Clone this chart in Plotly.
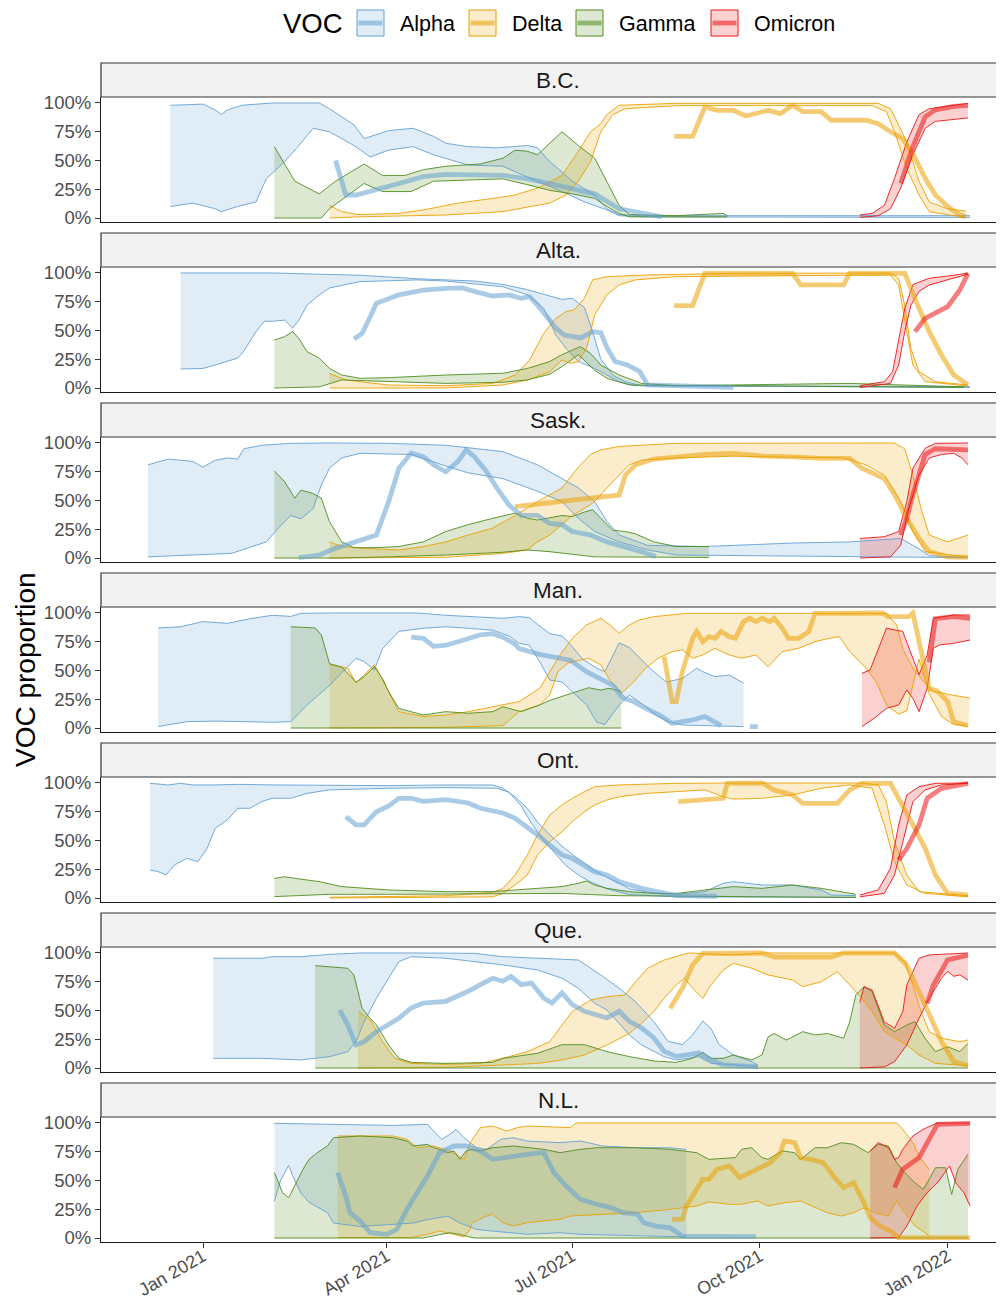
import pandas as pd
import plotly.graph_objects as go

# ---------------------------------------------------------------------------
# Data: every point is (days since 2021-01-01, percent).  (None, None) = gap.
# ---------------------------------------------------------------------------
START = pd.Timestamp("2021-01-01")

PROVINCES = ["B.C.", "Alta.", "Sask.", "Man.", "Ont.", "Que.", "N.L."]
VOCS = ["Alpha", "Delta", "Gamma", "Omicron"]
Y_TICKS = [0, 25, 50, 75, 100]
Y_TICK_LABELS = ["0%", "25%", "50%", "75%", "100%"]
X_TICKS = ["2021-01-01", "2021-04-01", "2021-07-01", "2021-10-01", "2022-01-01"]
X_TICK_LABELS = ["Jan 2021", "Apr 2021", "Jul 2021", "Oct 2021", "Jan 2022"]

# ---- B.C. ----
BC_ALPHA_HI = [(-16, 98), (0, 99), (6, 94), (9, 90), (12, 94), (19, 98), (34, 100), (57, 100), (62, 95), (74, 81), (79, 69), (91, 76), (103, 78), (113, 71), (119, 65), (130, 62), (144, 61), (159, 63), (164, 61), (170, 49), (176, 40), (181, 32), (192, 20), (198, 8), (204, 3), (215, 2), (376, 2)]
BC_ALPHA_LO = [(-16, 10), (-5, 13), (6, 8), (9, 5.5), (17, 10), (26, 14), (31, 34), (40, 49), (47, 63), (54, 78), (62, 75), (74, 63), (82, 53), (91, 59), (103, 62), (113, 55), (130, 46), (147, 45), (161, 34), (176, 23), (187, 14), (198, 7), (204, 2), (215, 1), (376, 0.5)]
BC_ALPHA_OBS = [(65, 50), (70, 20), (75, 20), (82, 23), (96, 30), (108, 36), (119, 38), (147, 37), (159, 34), (170, 30), (181, 26), (192, 21), (204, 8), (215, 4), (225, 1)]
BC_GAMMA_HI = [(35, 62), (45, 32), (57, 21), (65, 32), (79, 47), (88, 37), (99, 37), (108, 42), (119, 45), (136, 47), (147, 52), (153, 59), (159, 58), (164, 55), (176, 75), (184, 63), (192, 52), (198, 32), (204, 11), (209, 3), (232, 2), (255, 4), (257, 2)]
BC_GAMMA_LO = [(35, 0), (58, 0), (62, 8), (71, 20), (79, 30), (88, 23), (102, 23), (113, 32), (130, 33), (147, 34), (159, 29), (170, 24), (181, 21), (192, 17), (198, 10), (204, 4), (209, 1), (257, 1)]
BC_DELTA_HI = [(62, 11), (68, 5.5), (76, 3), (96, 4), (108, 7), (125, 13), (142, 17), (153, 20), (164, 26), (176, 37), (184, 58), (190, 75), (195, 82), (198, 90), (204, 98), (232, 99.7), (331, 99.7), (337, 95), (341, 81), (345, 66), (351, 32), (356, 14), (365, 8), (374, 6)]
BC_DELTA_LO = [(62, 0), (76, 1), (119, 2.6), (147, 5.5), (170, 13), (178, 20), (184, 32), (190, 49), (195, 75), (201, 90), (207, 95), (232, 97.7), (328, 97.7), (335, 92.5), (339, 75), (345, 43), (351, 20), (356, 5.5), (368, 2), (374, 1)]
BC_DELTA_OBS = [(231, 71), (240, 71), (246, 96.5), (252, 93.6), (260, 93.6), (266, 88.7), (277, 93.6), (283, 90.7), (289, 98), (294, 92.5), (303, 92.5), (308, 85), (325, 85), (331, 82), (337, 75), (343, 69), (348, 56), (354, 34.5), (359, 20), (365, 10), (371, 2.6), (374, 1)]
BC_OMICRON_HI = [(322, 2.6), (328, 4), (334, 11), (339, 34.5), (345, 66), (351, 90), (356, 95), (368, 98), (375, 99.7)]
BC_OMICRON_LO = [(322, 0.5), (331, 2), (337, 8), (342, 26), (348, 55), (354, 78), (359, 84), (368, 86), (375, 87)]
BC_OMICRON_OBS = [(342, 30), (348, 62), (354, 88), (359, 94), (368, 97), (375, 98)]

# ---- Alta. ----
AB_ALPHA_HI = [(-11, 100), (34, 100), (77, 98), (105, 95), (133, 93), (147, 90), (159, 85.5), (170, 80), (176, 77), (181, 78), (187, 70), (191, 49), (195, 25), (201, 11), (207, 5.5), (215, 2), (376, 1.2)]
AB_ALPHA_LO = [(-11, 16.5), (0, 17), (6, 20), (12, 23), (17, 26), (20, 32), (26, 49), (30, 58), (34, 58), (40, 59), (44, 52), (47, 59), (51, 72), (57, 81), (62, 87), (77, 92.5), (105, 94), (119, 93), (147, 88), (159, 81), (167, 69), (173, 46), (178, 34.5), (184, 23), (192, 17), (204, 5.5), (212, 2), (376, 0.5)]
AB_ALPHA_OBS = [(74, 42.6), (78, 47.5), (82, 62), (85, 73.6), (96, 81), (108, 85), (119, 86.7), (127, 87), (133, 84), (142, 80), (150, 81), (156, 78), (160, 79.4), (164, 72), (173, 52), (177, 46), (185, 43.5), (191, 49), (195, 48), (198, 35), (202, 23), (208, 20), (214, 14.5), (218, 2.6), (260, 0.5)]
AB_GAMMA_HI = [(35, 41.7), (40, 44.6), (44, 49), (47, 43), (51, 31.6), (57, 26), (62, 17), (68, 11.3), (77, 8.4), (91, 9), (119, 11.3), (147, 12.8), (159, 17), (170, 23), (176, 29), (181, 33), (185, 36), (190, 30), (195, 20), (204, 11.3), (215, 4), (232, 2), (289, 3.2), (317, 4), (373, 1)]
AB_GAMMA_LO = [(35, 0), (57, 1), (68, 7), (91, 5.5), (119, 4), (147, 5), (159, 7), (170, 12), (178, 21), (184, 29), (188, 22.6), (192, 15.4), (198, 8.4), (209, 2.6), (373, 0.5)]
AB_DELTA_HI = [(62, 12.8), (70, 7), (91, 2.6), (119, 2), (142, 4), (153, 11.3), (160, 24), (167, 47.5), (173, 60.6), (178, 66.4), (182, 68), (187, 78), (191, 94), (198, 96.8), (218, 98.3), (260, 99.7), (337, 100), (341, 95.4), (344, 72), (347, 34.5), (351, 14.2), (359, 5.5), (375, 2.6)]
AB_DELTA_LO = [(62, 0), (119, 0), (147, 2.6), (159, 7), (170, 14.2), (176, 24.3), (180, 21.4), (184, 22.9), (188, 34.5), (192, 63.5), (198, 81), (204, 89.6), (212, 94), (232, 96.8), (337, 98.3), (341, 89.6), (345, 49), (348, 20), (354, 5.5), (375, 1.7)]
AB_DELTA_OBS = [(231, 71.6), (240, 71.6), (246, 99.7), (289, 99.7), (293, 89.6), (314, 89.6), (317, 99.7), (344, 99.7), (351, 69.3), (356, 49), (362, 28.7), (368, 11.3), (375, 2.6)]
AB_OMICRON_HI = [(322, 2), (334, 5.5), (338, 14), (341, 40), (344, 69), (348, 90), (356, 95.4), (368, 98), (375, 100)]
AB_OMICRON_LO = [(322, 0.5), (337, 4), (341, 20), (344, 49), (347, 72), (351, 84), (356, 89.6), (365, 94), (375, 99)]
AB_OMICRON_OBS = [(349, 49), (354, 60.6), (365, 70.7), (371, 85.2), (375, 99.7)]

# ---- Sask. ----
SK_ALPHA_HI = [(-27, 81), (-17, 86), (-5, 84), (0, 79), (6, 85), (12, 87), (17, 86), (20, 95), (29, 98), (43, 99.7), (62, 100), (91, 99.7), (119, 98), (147, 92.5), (164, 81), (176, 69), (184, 61), (192, 49), (198, 32), (204, 20), (218, 11), (246, 10), (289, 13), (317, 14), (342, 17), (351, 8), (356, 2), (375, 0.5)]
SK_ALPHA_LO = [(-27, 1), (14, 4), (31, 14), (37, 26), (43, 37), (48, 34), (54, 43), (58, 63.5), (62, 78), (68, 87), (77, 91), (102, 90), (119, 80), (130, 74), (147, 69), (164, 58), (176, 49), (184, 34.5), (192, 23), (204, 14), (218, 7), (232, 2.6), (375, 0.3)]
SK_ALPHA_OBS = [(47, 0.3), (57, 2.6), (65, 8.4), (74, 14), (85, 20), (91, 49), (96, 78), (102, 91), (108, 88), (113, 81), (119, 75), (125, 84), (129, 94), (133, 88), (139, 75), (144, 61), (150, 46), (156, 37), (164, 37), (170, 30), (176, 29), (181, 23), (190, 20), (198, 14), (207, 10), (215, 5.5), (222, 1.2)]
SK_GAMMA_HI = [(35, 75.7), (40, 66.4), (45, 52), (48, 59), (54, 56), (58, 52), (62, 31.6), (68, 14), (74, 9), (85, 9), (96, 10), (108, 14), (119, 23), (130, 29), (142, 34.5), (153, 39), (159, 34.5), (164, 33), (176, 37), (181, 36), (187, 40), (191, 42), (195, 34.5), (201, 24), (207, 23), (212, 21), (221, 14), (232, 10), (248, 10)]
SK_GAMMA_LO = [(35, 0), (68, 0), (91, 1), (119, 2.6), (147, 5), (159, 7), (170, 5.5), (181, 3), (192, 1), (248, 0.5)]
SK_DELTA_HI = [(62, 14), (68, 10), (79, 8.4), (96, 7), (108, 10), (119, 14), (130, 20), (142, 26), (153, 37), (164, 49), (176, 61), (184, 79), (190, 90), (195, 94), (204, 97), (232, 99.7), (339, 100), (344, 95), (348, 72), (352, 43), (356, 20), (365, 14), (375, 20)]
SK_DELTA_LO = [(62, 0), (119, 0.6), (147, 4), (159, 7), (164, 14), (170, 20), (176, 29), (181, 37), (187, 43), (192, 49), (198, 61), (204, 72), (209, 81), (215, 85), (232, 87), (260, 88.5), (289, 88), (314, 87), (325, 81), (334, 72), (342, 49), (348, 23), (354, 5.5), (375, 0.6)]
SK_DELTA_OBS = [(153, 44.6), (204, 54.8), (207, 72), (212, 81), (221, 86), (232, 88), (246, 90), (260, 91), (274, 88.7), (289, 88), (303, 86.7), (317, 86.7), (323, 78), (334, 69), (339, 55), (345, 34.5), (351, 17), (356, 5.5), (365, 1), (375, 0.6)]
SK_OMICRON_HI = [(322, 17), (334, 18.5), (341, 23), (345, 49), (348, 78), (354, 95.4), (359, 99.7), (375, 100)]
SK_OMICRON_LO = [(322, 0), (337, 1), (342, 11), (346, 43), (351, 72), (356, 87), (362, 90), (368, 91), (372, 87), (375, 81)]
SK_OMICRON_OBS = [(342, 20), (345, 34.5), (348, 55), (351, 72), (354, 90), (359, 95), (368, 95), (375, 94)]

# ---- Man. ----
MB_ALPHA_HI = [(-22, 87), (-11, 88), (0, 92.5), (12, 91), (23, 95), (34, 98), (43, 97), (48, 99.7), (62, 100), (105, 100), (119, 98), (147, 95.4), (155, 96.8), (160, 96), (164, 90), (170, 82), (176, 80), (180, 73), (186, 60), (193, 52), (197, 49), (204, 74), (209, 70), (219, 52), (227, 40), (235, 43), (242, 52), (245, 49), (251, 44.6), (258, 46), (265, 39)]
MB_ALPHA_LO = [(-22, 1.2), (-8, 5.5), (6, 6), (34, 5), (43, 5.5), (51, 20), (62, 37), (68, 47.5), (75, 60.6), (79, 57.7), (84, 50.4), (88, 69), (96, 84), (108, 86.7), (119, 88), (130, 86.7), (142, 85), (150, 80), (155, 73.6), (160, 72), (165, 57.7), (170, 41.7), (176, 40), (182, 30), (188, 20), (193, 5), (197, 3), (204, 20), (209, 28.7), (216, 20), (222, 11), (228, 5.5), (235, 2.6), (265, 1.2)]
MB_ALPHA_OBS = [(102, 79), (108, 78), (113, 71), (119, 72), (125, 75), (130, 78), (136, 81), (142, 82), (147, 79), (153, 73), (155, 69), (165, 64), (172, 62), (180, 59), (188, 49), (194, 43), (201, 37), (206, 26), (211, 23), (217, 17), (224, 11), (230, 4), (240, 7), (246, 10), (251, 5.5), (254, 2), (None, None), (268, 1.2), (272, 1.2)]
MB_GAMMA_HI = [(43, 88), (55, 87), (58, 81), (62, 56), (68, 53), (72, 46), (75, 40), (79, 44.6), (84, 53.3), (88, 43), (91, 31.6), (96, 17), (108, 11.3), (119, 14.2), (130, 12.8), (142, 14.2), (147, 18.5), (156, 14.2), (165, 20), (170, 24), (178, 28.7), (189, 35), (195, 33), (199, 34.5), (205, 32)]
MB_GAMMA_LO = [(43, 0), (205, 0)]
MB_DELTA_HI = [(62, 55), (71, 52), (75, 39), (84, 55), (91, 31.6), (96, 14.2), (108, 10), (119, 11.3), (130, 14.2), (142, 18.5), (147, 20), (155, 23), (165, 34.5), (175, 63.5), (181, 78), (188, 89.6), (195, 95.4), (199.5, 89.6), (204, 82.3), (209, 89.6), (214, 94), (221, 96.8), (237, 99.7), (335, 99.7), (340, 89.6), (343, 69), (348, 52), (353, 40.6), (358, 32), (366, 29), (376, 26)]
MB_DELTA_LO = [(62, 0), (119, 0.6), (147, 2), (155, 14.2), (165, 20), (170, 28.7), (174, 49), (179, 56.5), (185, 59), (189, 60.6), (195, 54.8), (200, 40), (205, 30), (211, 40), (217, 52), (223, 60.6), (230, 66.4), (235, 68), (240, 60.6), (245, 63.5), (251, 69.3), (258, 63.5), (264, 60.6), (271, 63.5), (277, 53.3), (284, 66.4), (292, 69.3), (300, 75), (307, 78), (312, 79.4), (317, 66.4), (325, 52), (330, 40), (335, 20), (341, 12), (345, 15), (351, 60), (356, 30), (362, 10), (368, 3), (375, 1.5)]
MB_DELTA_OBS = [(226, 62), (228, 40), (230, 23), (232, 23), (235, 49), (240, 78), (242, 84), (245, 75), (248, 79.4), (251, 78), (254, 84), (258, 79.4), (261, 78), (265, 92.5), (268, 95.4), (271, 92.5), (274, 95.4), (278, 92.5), (280, 95.4), (284, 86.7), (287, 78), (292, 78), (297, 84), (300, 99.7), (333, 100), (336, 96.8), (346, 96.8), (348, 100), (351, 75), (356, 34.5), (360, 32), (365, 23), (368, 5.5), (375, 2)]
MB_OMICRON_HI = [(323, 47.5), (327, 50.4), (335, 86.7), (343, 84), (348, 60.6), (351, 46.4), (355, 63.5), (358, 95.4), (368, 98.3), (376, 98.3)]
MB_OMICRON_LO = [(323, 1.2), (329, 8.4), (335, 17), (341, 20), (345, 33), (348, 25.8), (351, 14.2), (355, 34.5), (358, 69.3), (361, 72.2), (368, 73.6), (376, 76.5)]
MB_OMICRON_OBS = [(356, 57), (359, 95), (368, 96.8), (376, 95.4)]

# ---- Ont. ----
ON_ALPHA_HI = [(-26, 99.7), (-22, 98.8), (-17, 98.3), (-11, 99.7), (-5, 98.3), (6, 98.3), (17, 98.8), (34, 98.3), (62, 97.7), (91, 97.7), (119, 98.3), (142, 98.3), (147, 95.4), (153, 88), (159, 78), (164, 66), (170, 55), (176, 45), (181, 38), (187, 30), (192, 24), (198, 18), (204, 13), (209, 8), (218, 5), (232, 3.2), (246, 5.5), (255, 12.8), (260, 14.2), (274, 11.3), (289, 11.3), (303, 7), (308, 2.6), (320, 2)]
ON_ALPHA_LO = [(-26, 24.3), (-22, 22.9), (-18, 20), (-14, 28.7), (-8, 34.5), (-2.5, 31.6), (2, 43), (6, 60.6), (12, 68), (17, 78), (23, 78), (29, 84), (34, 86.7), (43, 86.7), (51, 91), (62, 94), (91, 95.4), (119, 96), (144, 95.4), (150, 92), (156, 80), (161, 65), (167, 50), (173, 38), (178, 28), (184, 20), (190, 14), (198, 8), (209, 3), (232, 1), (320, 0.5)]
ON_ALPHA_OBS = [(70, 70.7), (75, 63.5), (79, 63.5), (85, 75), (91, 80), (96, 86.7), (102, 86.7), (108, 84), (119, 85.5), (130, 82.6), (136, 78), (147, 73.9), (153, 69.3), (159, 62), (164, 54.8), (170, 46), (176, 37.4), (181, 34.5), (187, 28.7), (192, 22.9), (198, 20), (204, 14.2), (215, 8.4), (226, 4), (232, 2), (252, 1.5)]
ON_GAMMA_HI = [(35, 17), (40, 18.5), (45.5, 17), (57, 14.2), (68, 9.9), (91, 7), (119, 5.5), (142, 5.5), (153, 7), (164, 8.4), (176, 9.9), (184, 12.8), (188, 14.8), (192, 11.3), (198, 8.4), (209, 5.5), (221, 4), (232, 4), (246, 7), (260, 9.9), (274, 8.4), (289, 11.3), (303, 8.4), (320, 3.2)]
ON_GAMMA_LO = [(35, 1.2), (62, 3.2), (91, 3.2), (176, 4), (204, 2), (320, 0.5)]
ON_DELTA_HI = [(62, 0.6), (119, 2), (142, 4.9), (147, 8.4), (153, 20), (159, 37.4), (164, 55), (170, 72.2), (176, 81), (181, 86.7), (187, 92.5), (192, 96.8), (204, 98.3), (232, 99.7), (260, 100), (323, 100), (331, 98.3), (335, 83.8), (339, 49), (345, 20), (351, 5.5), (375, 2)]
ON_DELTA_LO = [(62, 0), (142, 1), (147, 4), (153, 11.3), (159, 20), (164, 37.4), (170, 49), (176, 57.7), (181, 66.4), (187, 75), (192, 80.9), (198, 85.2), (204, 88), (218, 91), (232, 92.5), (246, 94), (255, 88), (260, 86), (274, 86.7), (289, 89.6), (303, 95.4), (317, 98.3), (328, 95.4), (334, 63.5), (339, 31.6), (345, 11.3), (354, 4), (375, 1.2)]
ON_DELTA_OBS = [(233, 83.8), (255, 86.7), (257, 99.7), (274, 100), (280, 93.9), (289, 89.6), (294, 82.3), (311, 82.3), (317, 93.9), (323, 99.7), (337, 99.7), (342, 83.8), (348, 63.5), (354, 43.2), (359, 20), (365, 4), (375, 2.6)]
ON_OMICRON_HI = [(322, 2.6), (331, 7), (337, 25.8), (341, 63.5), (345, 89.6), (351, 96.8), (359, 99.7), (375, 100)]
ON_OMICRON_LO = [(322, 1), (334, 4), (339, 20), (344, 54.8), (348, 83.8), (354, 94), (362, 98.3), (375, 99.7)]
ON_OMICRON_OBS = [(341, 33), (345, 43), (351, 63.5), (355, 86.7), (362, 95.4), (375, 99.7)]

# ---- Que. ----
QC_ALPHA_HI = [(5, 95.4), (29, 95.4), (34, 96.8), (48, 96.8), (62, 98.8), (77, 100), (105, 100), (133, 99.7), (147, 96.8), (164, 95.4), (184, 93.9), (195, 80.9), (204, 69.3), (212, 57.7), (221, 40.3), (228, 23.2), (235, 20.3), (240, 28.7), (245, 40.9), (249, 34.5), (253, 20.3), (260, 11.3), (269, 5.5), (272, 2.6)]
QC_ALPHA_LO = [(5, 8.4), (29, 8.4), (48, 7), (62, 9.9), (71, 14.2), (75, 22.9), (79, 40.3), (85, 60.6), (91, 78), (96, 92.5), (102, 96.8), (119, 95.4), (147, 89.6), (164, 85.2), (176, 78), (184, 69.3), (192, 56.2), (198, 50.4), (204, 38.8), (209, 28.7), (215, 20), (226, 9.9), (232, 7), (243, 9.9), (249, 4), (272, 1.2)]
QC_ALPHA_OBS = [(67, 50.4), (71, 37.4), (75, 20), (79, 22.9), (85, 31.6), (91, 37.4), (96, 43.2), (102, 52.2), (108, 56.5), (119, 58), (125, 62.3), (130, 66.7), (136, 72.5), (142, 78), (147, 75.4), (151, 79.7), (156, 72.5), (161, 73.9), (167, 60.9), (171, 56.5), (176, 65.2), (181, 55.1), (187, 49.3), (192, 46.4), (198, 43.5), (204, 49.3), (209, 40.6), (215, 34.8), (221, 26.1), (226, 14.5), (232, 10.1), (243, 13), (249, 7.2), (255, 2.6), (272, 0.9)]
QC_GAMMA_HI = [(55, 89), (71, 86.7), (74, 80.9), (78, 51.9), (82, 43.2), (85, 37.4), (91, 20), (96, 8.4), (102, 4.9), (119, 4), (142, 4.9), (147, 8.4), (164, 12.8), (176, 20.3), (187, 20.3), (198, 14.2), (209, 9.9), (221, 6.1), (232, 4.9), (240, 8.4), (245, 13.6), (249, 8.4), (255, 8.4), (260, 11.3), (269, 7), (274, 11.3), (277, 27), (280, 30), (286, 24.3), (294, 31.6), (300, 28.7), (306, 30), (314, 25.8), (317, 40), (320, 63.5), (324, 70.7), (328, 66.4), (334, 37.4), (339, 31.6), (345, 37.4), (349, 40.3), (354, 25.8), (359, 14.2), (365, 18.5), (371, 14.2), (375, 21.4)]
QC_GAMMA_LO = [(55, 0), (375, 0)]
QC_DELTA_HI = [(76, 49), (82, 41.7), (88, 22.9), (94, 8.4), (102, 4), (119, 3.2), (136, 4), (147, 8.4), (159, 14.2), (170, 22.9), (176, 37.4), (181, 49), (190, 59.1), (198, 62), (207, 63.5), (212, 75), (218, 86.7), (226, 93.9), (238, 100), (249, 99.4), (260, 98.3), (274, 100), (339, 100), (344, 92.5), (348, 72.2), (352, 49), (356, 31.6), (362, 25.8), (371, 22.9), (375, 24.3)]
QC_DELTA_LO = [(76, 0), (119, 0.6), (147, 2.6), (164, 4), (176, 7), (187, 11.3), (198, 20), (209, 30.1), (215, 38.8), (221, 49), (226, 60.6), (232, 72.2), (236, 78), (240, 69.3), (245, 60.6), (249, 72.2), (255, 85.2), (260, 91), (269, 86.7), (277, 80.9), (289, 76.5), (294, 70.7), (303, 75), (311, 83.8), (317, 72.2), (323, 60.6), (328, 49), (334, 31.6), (339, 26), (345, 20), (351, 11.3), (359, 4), (375, 2)]
QC_DELTA_OBS = [(229, 51.9), (235, 69.3), (240, 89.6), (245, 99.7), (274, 100), (280, 96.5), (308, 96.5), (314, 100), (339, 100), (345, 89.6), (351, 66.4), (356, 46.1), (362, 23), (368, 5.5), (375, 2)]
QC_OMICRON_HI = [(322, 57), (324, 70.7), (328, 67.8), (334, 40), (339, 34.5), (343, 49), (345, 72.2), (351, 95.4), (356, 98.3), (375, 100)]
QC_OMICRON_LO = [(322, 0), (334, 1), (339, 5.5), (345, 20), (351, 43.2), (356, 60.6), (362, 78), (365, 84), (368, 79.7), (371, 80.9), (375, 76.5)]
QC_OMICRON_OBS = [(355, 56), (358, 72), (365, 94), (375, 98)]

# ---- N.L. ----
NL_ALPHA_HI = [(35, 99.7), (61, 98.8), (93, 97.9), (110, 98.8), (113, 93), (117, 85.8), (121, 90.1), (124, 94.5), (128, 87.2), (134, 78.6), (139, 77.1), (146, 85.8), (152, 87.2), (159, 84.3), (175, 82.9), (185, 84.3), (196, 80), (212, 78.5), (229, 78.5), (237, 77)]
NL_ALPHA_LO = [(35, 32), (38, 50), (42, 63), (44, 54), (48, 39), (52, 31), (61, 22), (64, 13), (77, 10), (93, 12), (103, 13), (110, 16), (120, 19), (126, 13), (134, 7.5), (142, 6), (152, 4.6), (159, 3.2), (175, 4.6), (185, 3.2), (212, 2), (237, 1)]
NL_ALPHA_OBS = [(66, 56.8), (70, 36.5), (72, 22), (77, 14.8), (82, 4.6), (90, 3.2), (95, 7.5), (100, 25), (105, 39.4), (110, 53.9), (116, 74.2), (123, 80), (129, 80), (136, 75.7), (142, 68.4), (152, 71.3), (159, 72.8), (167, 74.2), (172, 56.8), (178, 45.2), (185, 33.6), (193, 29.3), (200, 26.4), (206, 22), (213, 20.6), (216, 13.3), (222, 10.4), (229, 8.9), (235, 1.7), (271, 1.2)]
NL_GAMMA_HI = [(35, 57), (39, 39.4), (42, 35), (44, 42.3), (49, 59.7), (52, 68.4), (56, 74.2), (61, 80), (64, 87.2), (77, 88.7), (93, 87.2), (100, 84.3), (103, 80), (110, 81.4), (113, 78.5), (116, 77.1), (120, 74.2), (123, 75.7), (126, 68.4), (129, 75.7), (132, 77.1), (136, 75.7), (142, 78.5), (152, 80), (159, 78.5), (167, 77.1), (175, 74.2), (185, 77.1), (193, 78.5), (212, 78.5), (229, 77.1), (235, 75.7), (242, 74.2), (248, 68.4), (261, 69.9), (264, 77.1), (269, 78.5), (274, 69.9), (277, 68.4), (284, 75.7), (290, 74.2), (293, 68.4), (300, 78.5), (306, 78.5), (313, 82.9), (319, 81.4), (326, 74.2), (331, 81.4), (336, 80), (340, 65.5), (344, 56.8), (349, 48.1), (353, 42.3), (356, 51), (359, 61.1), (364, 61.1), (367, 37.9), (370, 59.7), (375, 72.8)]
NL_GAMMA_LO = [(35, 0), (108, 0), (116, 3), (121, 4.5), (126, 3), (133, 0), (375, 0)]
NL_DELTA_HI = [(66, 88.7), (93, 88.7), (100, 85.8), (105, 78.6), (113, 80), (121, 75.7), (128, 68.4), (131, 82.9), (136, 95.9), (142, 97.4), (149, 93), (154, 95.9), (159, 97.4), (180, 96), (183, 100), (340, 100), (343, 94.5), (348, 83), (351, 71.3), (356, 59.7)]
NL_DELTA_LO = [(66, 0.4), (102, 0.4), (110, 3.2), (116, 6.1), (128, 1), (131, 7.5), (132, 13.3), (139, 19.1), (142, 20.6), (147, 13.3), (152, 10.4), (159, 13.3), (167, 14.8), (175, 16.2), (180, 19.1), (196, 20.6), (212, 22), (229, 24.9), (235, 26.4), (242, 27.8), (248, 31.3), (258, 29.3), (264, 29.3), (272, 32.2), (277, 27.8), (285, 30.7), (293, 32.2), (300, 26.4), (306, 22), (313, 19.1), (319, 22), (324, 26.4), (329, 22), (336, 19.1), (340, 32.2), (344, 22), (349, 10.4), (354, 4.6), (356, 1.7)]
NL_DELTA_OBS = [(230, 16.2), (235, 16.2), (237, 27.8), (242, 42.3), (245, 51), (248, 51), (252, 59.7), (258, 62.6), (263, 52.5), (270, 58.3), (278, 65.5), (283, 74.2), (285, 84.3), (290, 82.9), (293, 69.9), (298, 68.4), (304, 65.5), (309, 53.9), (314, 43.8), (319, 48.1), (324, 30.7), (327, 17.7), (332, 10.4), (337, 6.1), (341, 0.3), (376, 0.3)]
NL_OMICRON_HI = [(327, 75.7), (331, 82.9), (336, 78.5), (339, 68.4), (341, 70), (343, 77), (348, 88.7), (353, 94.5), (360, 100), (376, 100)]
NL_OMICRON_LO = [(327, 0), (341, 0.3), (345, 10.4), (350, 27.8), (355, 39.4), (360, 48), (366, 62.6), (369, 48), (373, 39.4), (376, 27.8)]
NL_OMICRON_OBS = [(339, 43.8), (343, 59.7), (351, 69.9), (356, 85.8), (360, 98.8), (376, 99.7)]

# (upper bound, lower bound, observed) for each province / VOC
SERIES = {
    "B.C.": {"Alpha": (BC_ALPHA_HI, BC_ALPHA_LO, BC_ALPHA_OBS), "Delta": (BC_DELTA_HI, BC_DELTA_LO, BC_DELTA_OBS),
             "Gamma": (BC_GAMMA_HI, BC_GAMMA_LO, None), "Omicron": (BC_OMICRON_HI, BC_OMICRON_LO, BC_OMICRON_OBS)},
    "Alta.": {"Alpha": (AB_ALPHA_HI, AB_ALPHA_LO, AB_ALPHA_OBS), "Delta": (AB_DELTA_HI, AB_DELTA_LO, AB_DELTA_OBS),
              "Gamma": (AB_GAMMA_HI, AB_GAMMA_LO, None), "Omicron": (AB_OMICRON_HI, AB_OMICRON_LO, AB_OMICRON_OBS)},
    "Sask.": {"Alpha": (SK_ALPHA_HI, SK_ALPHA_LO, SK_ALPHA_OBS), "Delta": (SK_DELTA_HI, SK_DELTA_LO, SK_DELTA_OBS),
              "Gamma": (SK_GAMMA_HI, SK_GAMMA_LO, None), "Omicron": (SK_OMICRON_HI, SK_OMICRON_LO, SK_OMICRON_OBS)},
    "Man.": {"Alpha": (MB_ALPHA_HI, MB_ALPHA_LO, MB_ALPHA_OBS), "Delta": (MB_DELTA_HI, MB_DELTA_LO, MB_DELTA_OBS),
             "Gamma": (MB_GAMMA_HI, MB_GAMMA_LO, None), "Omicron": (MB_OMICRON_HI, MB_OMICRON_LO, MB_OMICRON_OBS)},
    "Ont.": {"Alpha": (ON_ALPHA_HI, ON_ALPHA_LO, ON_ALPHA_OBS), "Delta": (ON_DELTA_HI, ON_DELTA_LO, ON_DELTA_OBS),
             "Gamma": (ON_GAMMA_HI, ON_GAMMA_LO, None), "Omicron": (ON_OMICRON_HI, ON_OMICRON_LO, ON_OMICRON_OBS)},
    "Que.": {"Alpha": (QC_ALPHA_HI, QC_ALPHA_LO, QC_ALPHA_OBS), "Delta": (QC_DELTA_HI, QC_DELTA_LO, QC_DELTA_OBS),
             "Gamma": (QC_GAMMA_HI, QC_GAMMA_LO, None), "Omicron": (QC_OMICRON_HI, QC_OMICRON_LO, QC_OMICRON_OBS)},
    "N.L.": {"Alpha": (NL_ALPHA_HI, NL_ALPHA_LO, NL_ALPHA_OBS), "Delta": (NL_DELTA_HI, NL_DELTA_LO, NL_DELTA_OBS),
             "Gamma": (NL_GAMMA_HI, NL_GAMMA_LO, None), "Omicron": (NL_OMICRON_HI, NL_OMICRON_LO, NL_OMICRON_OBS)},
}

# ---------------------------------------------------------------------------
# Styling / layout
# ---------------------------------------------------------------------------
COLORS = {"Alpha": (100, 160, 210), "Delta": (235, 160, 0), "Gamma": (80, 140, 30), "Omicron": (235, 20, 20)}
FILL_A = 0.2
OBS_A = 0.55
FONT = "Liberation Sans, Arial, sans-serif"

PAGE_W, PAGE_H = 1004, 1309
OFF = 8                          # default page body margin
W, H = PAGE_W - 2 * OFF, PAGE_H - 2 * OFF
PLOT_L = 101                     # page px, left edge of panels
STRIP_TOP0 = 63                  # page px, strip top of first facet
STRIP_H = 34
PANEL_H = 125
STEP = 170
PX_PER_DAY = 2.04
JAN1_X = 203                     # page px of 2021-01-01
X_RANGE = [START - pd.Timedelta(days=(JAN1_X - PLOT_L) / PX_PER_DAY),
           START + pd.Timedelta(days=(PAGE_W - OFF - JAN1_X) / PX_PER_DAY)]
Y_RANGE = [-3.48, 105.2]


def rgba(c, a):
    return f"rgba({c[0]},{c[1]},{c[2]},{a})"


def xy(points):
    xs, ys = [], []
    for d, p in points:
        if d is None:
            xs.append(None)
            ys.append(None)
        else:
            xs.append(START + pd.Timedelta(days=d))
            ys.append(p)
    return xs, ys


def px_x(px):
    return (px - OFF) / W


def px_y(px):
    return 1 - (px - OFF) / H


fig = go.Figure()
shapes, annotations = [], []
layout = {}

for k, prov in enumerate(PROVINCES):
    sfx = "" if k == 0 else str(k + 1)
    xa, ya = "x" + sfx, "y" + sfx
    ser = SERIES[prov]
    for voc in VOCS:
        hi, lo, _ = ser[voc]
        hx, hy = xy(hi)
        lx, ly = xy(lo)
        fig.add_trace(go.Scatter(x=hx + lx[::-1], y=hy + ly[::-1], fill="toself", mode="lines",
                                 line=dict(width=0), fillcolor=rgba(COLORS[voc], FILL_A),
                                 hoverinfo="skip", showlegend=False, xaxis=xa, yaxis=ya))
    for voc in VOCS:
        hi, lo, _ = ser[voc]
        hx, hy = xy(hi)
        lx, ly = xy(lo)
        fig.add_trace(go.Scatter(x=hx + [None] + lx, y=hy + [None] + ly, mode="lines",
                                 line=dict(width=0.9, color=rgba(COLORS[voc], 1)),
                                 hoverinfo="skip", showlegend=False, xaxis=xa, yaxis=ya))
    for voc in VOCS:
        obs = ser[voc][2]
        if not obs:
            continue
        ox, oy = xy(obs)
        fig.add_trace(go.Scatter(x=ox, y=oy, mode="lines",
                                 line=dict(width=4.8, color=rgba(COLORS[voc], OBS_A)),
                                 hoverinfo="skip", showlegend=False, xaxis=xa, yaxis=ya))

    strip_top = STRIP_TOP0 + STEP * k
    panel_top = strip_top + STRIP_H
    panel_bot = panel_top + PANEL_H
    last = k == len(PROVINCES) - 1

    layout["xaxis" + sfx] = dict(
        domain=[px_x(PLOT_L), 1], anchor=ya, range=X_RANGE, showgrid=False, zeroline=False,
        automargin=False,
        showline=True, linecolor="#1a1a1a", linewidth=1.2,
        tickvals=X_TICKS if last else [], ticktext=X_TICK_LABELS if last else [],
        ticks="outside" if last else "", ticklen=5, tickcolor="#333333",
        tickangle=-30, tickfont=dict(size=18, color="#4D4D4D", family=FONT),
        ticklabelstandoff=-9,
        showticklabels=last,
    )
    layout["yaxis" + sfx] = dict(
        domain=[px_y(panel_bot), px_y(panel_top)], anchor=xa, range=Y_RANGE, showgrid=False, zeroline=False,
        automargin=False,
        showline=True, linecolor="#1a1a1a", linewidth=1.2,
        tickvals=Y_TICKS, ticktext=Y_TICK_LABELS, ticks="outside", ticklen=5, tickcolor="#333333",
        tickfont=dict(size=18.5, color="#4D4D4D", family=FONT),
    )
    shapes.append(dict(type="rect", xref="paper", yref="paper", x0=px_x(PLOT_L), x1=1.05,
                       y0=px_y(panel_top), y1=px_y(strip_top), fillcolor="#F2F2F2",
                       line=dict(color="#333333", width=1.2), layer="above"))
    annotations.append(dict(text=prov, xref="paper", yref="paper", x=px_x(558), y=px_y(strip_top + STRIP_H / 2),
                            showarrow=False, xanchor="center", yanchor="middle",
                            font=dict(size=22.5, color="#1A1A1A", family=FONT)))

annotations.append(dict(text="VOC proportion", xref="paper", yref="paper", x=px_x(25), y=px_y(670),
                        showarrow=False, textangle=-90, xanchor="center", yanchor="middle",
                        font=dict(size=28, color="black", family=FONT)))

# legend (drawn manually to mimic ggplot keys)
LEG_Y0, LEG_Y1 = 10, 36
LEG_BOX_X = {"Alpha": 357, "Delta": 469, "Gamma": 576, "Omicron": 711}
annotations.append(dict(text="VOC", xref="paper", yref="paper", x=px_x(313), y=px_y(23), showarrow=False,
                        xanchor="center", yanchor="middle", font=dict(size=27.5, color="black", family=FONT)))
for voc in VOCS:
    x0 = LEG_BOX_X[voc]
    x1 = x0 + 27
    c = COLORS[voc]
    shapes.append(dict(type="rect", xref="paper", yref="paper", x0=px_x(x0), x1=px_x(x1),
                       y0=px_y(LEG_Y1), y1=px_y(LEG_Y0), fillcolor=rgba(c, FILL_A),
                       line=dict(color=rgba(c, 1), width=1)))
    shapes.append(dict(type="line", xref="paper", yref="paper", x0=px_x(x0 + 1.5), x1=px_x(x1 - 1.5),
                       y0=px_y((LEG_Y0 + LEG_Y1) / 2), y1=px_y((LEG_Y0 + LEG_Y1) / 2),
                       line=dict(color=rgba(c, OBS_A), width=4.8)))
    annotations.append(dict(text=voc, xref="paper", yref="paper", x=px_x(x1 + 14), y=px_y(24), showarrow=False,
                            xanchor="left", yanchor="middle", font=dict(size=21.5, color="black", family=FONT)))

fig.update_layout(
    width=W, height=H, margin=dict(l=0, r=0, t=0, b=0, pad=0), autosize=False,
    paper_bgcolor="white", plot_bgcolor="white", showlegend=False,
    shapes=shapes, annotations=annotations, font=dict(family=FONT),
    **layout,
)

fig.write_html("out.html")
